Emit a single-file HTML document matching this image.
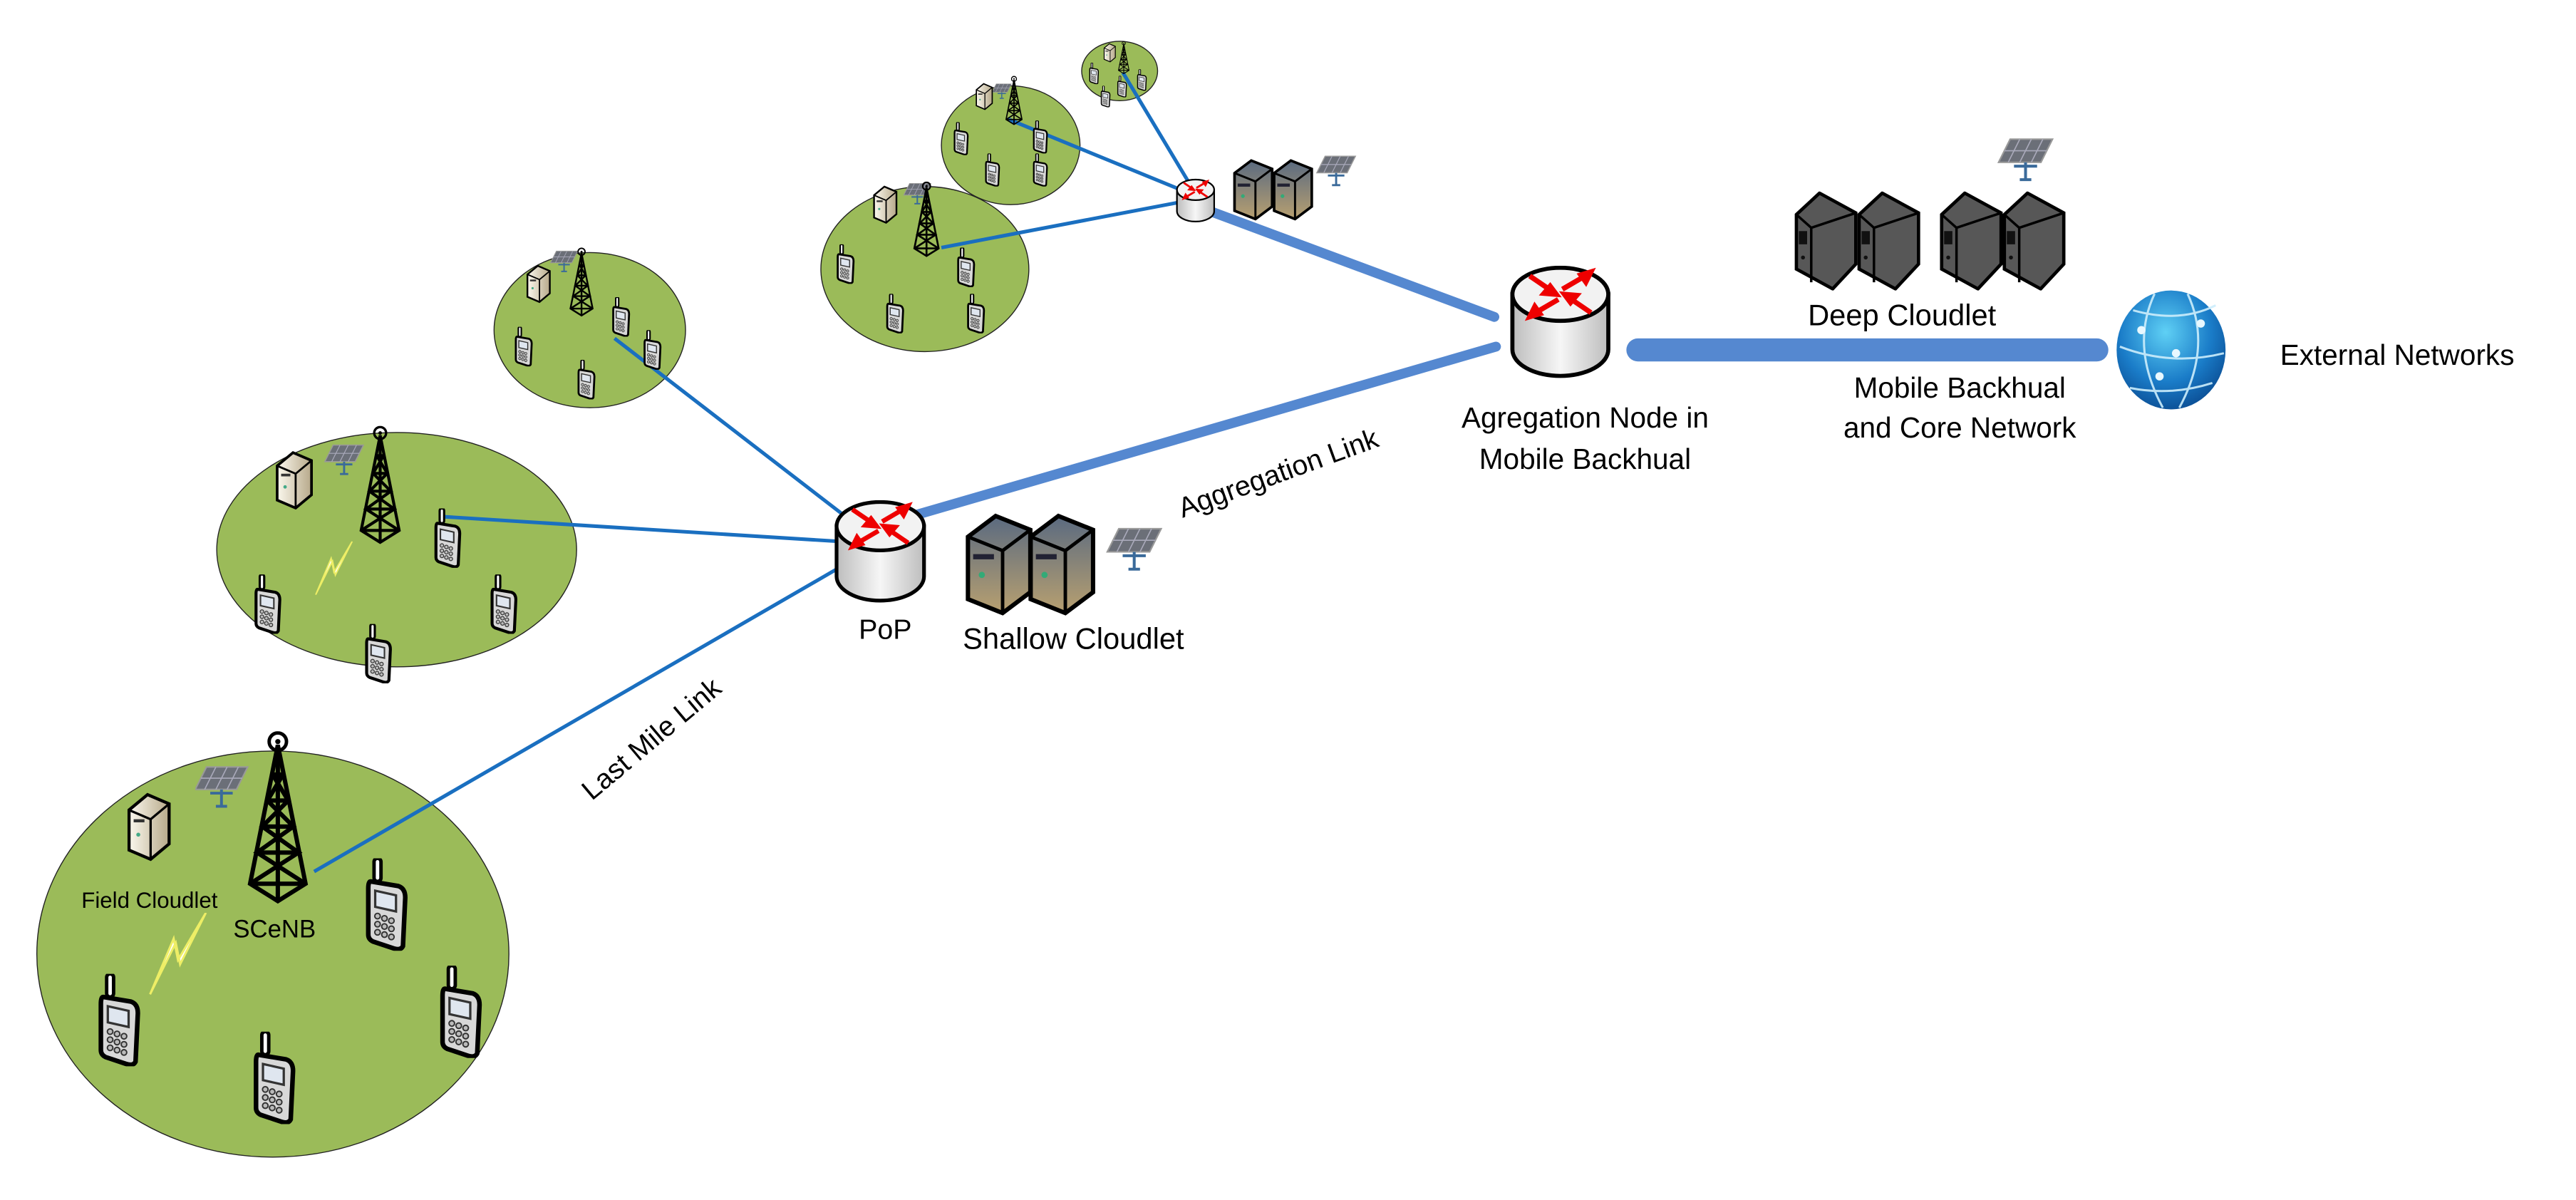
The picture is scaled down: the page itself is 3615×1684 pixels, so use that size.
<!DOCTYPE html>
<html><head><meta charset="utf-8"><style>
html,body{margin:0;padding:0;background:#fff}
svg{display:block}
text{font-family:"Liberation Sans",sans-serif;fill:#000}
</style></head><body>
<svg width="3615" height="1684" viewBox="0 0 1560 727" xmlns="http://www.w3.org/2000/svg">
<defs>
<linearGradient id="cyl" x1="0" x2="1"><stop offset="0" stop-color="#bdbdbd"/><stop offset="0.5" stop-color="#f6f6f6"/><stop offset="1" stop-color="#bdbdbd"/></linearGradient>
<linearGradient id="dsrv" x1="0" y1="0" x2="0" y2="1"><stop offset="0" stop-color="#5a6a80"/><stop offset="1" stop-color="#b8a070"/></linearGradient>
<linearGradient id="bsrv" x1="0" x2="1"><stop offset="0" stop-color="#fbf8ee"/><stop offset="1" stop-color="#b7a98a"/></linearGradient>
<radialGradient id="glb" cx="0.45" cy="0.35" r="0.7"><stop offset="0" stop-color="#5fd0f5"/><stop offset="0.6" stop-color="#1a7cc8"/><stop offset="1" stop-color="#0a4a90"/></radialGradient>
<symbol id="router" viewBox="0 0 100 110">
 <path d="M3,28 L3,82 A47,26 0 0 0 97,82 L97,28 Z" fill="url(#cyl)" stroke="#000" stroke-width="4"/>
 <ellipse cx="50" cy="28" rx="47" ry="26" fill="#f2f2f2" stroke="#000" stroke-width="4"/>
 <g stroke="#e00" stroke-width="5" fill="#e00">
 <line x1="20" y1="10" x2="42" y2="25"/><polygon points="46,28 34,27 40,20"/>
 <line x1="80" y1="46" x2="58" y2="31"/><polygon points="54,28 66,29 60,36"/>
 <line x1="48" y1="33" x2="24" y2="47"/><polygon points="20,50 25,40 30,47"/>
 <line x1="52" y1="23" x2="76" y2="9"/><polygon points="80,6 75,16 70,9"/>
 </g>
</symbol>
<symbol id="phone" viewBox="0 0 20 40">
 <rect x="4.5" y="0" width="3" height="10" rx="1.5" fill="#fff" stroke="#000" stroke-width="1.5"/>
 <path d="M3,10 L15,12 Q18,13 18,17 L17,38 Q16,40 13,39 L4,36 Q2,35 2,33 L2,13 Q2,10 3,10Z" fill="#d8d8d8" stroke="#000" stroke-width="2"/>
 <path d="M5,14 L14,16 L14,23 L5,21Z" fill="#dfe6ef" stroke="#333" stroke-width="1"/>
 <g fill="#bbb" stroke="#333" stroke-width="0.6"><circle cx="6" cy="25" r="1.2"/><circle cx="9" cy="26" r="1.2"/><circle cx="12" cy="27" r="1.2"/><circle cx="6" cy="28.5" r="1.2"/><circle cx="9" cy="29.5" r="1.2"/><circle cx="12" cy="30.5" r="1.2"/><circle cx="6" cy="32" r="1.2"/><circle cx="9" cy="33" r="1.2"/><circle cx="12" cy="34" r="1.2"/></g>
</symbol>
<symbol id="tower" viewBox="0 0 40 100">
 <circle cx="20" cy="6" r="5" fill="none" stroke="#000" stroke-width="2"/><circle cx="20" cy="6" r="1.5" fill="#000"/>
 <g stroke="#000" stroke-width="2.5" fill="none">
 <path d="M20,8 L4,88 L20,98 L36,88 Z"/><path d="M20,8 L20,98"/>
 <path d="M17,25 L23,25 M14,40 L26,40 M11,55 L29,55 M8,70 L32,70 M4,88 L36,88"/>
 <path d="M17,25 L26,40 L11,55 L32,70 L4,88 M23,25 L14,40 L29,55 L8,70 L36,88"/>
 </g>
</symbol>
<symbol id="bserver" viewBox="0 0 30 46">
 <path d="M2,12 L14,2 L28,8 L28,34 L16,44 L2,38 Z" fill="url(#bsrv)" stroke="#000" stroke-width="2"/>
 <path d="M2,12 L16,18 L28,8 M16,18 L16,44" fill="none" stroke="#000" stroke-width="1.5"/>
 <rect x="5" y="18" width="7" height="2" fill="#333"/><circle cx="8" cy="28" r="1.3" fill="#4a8"/>
</symbol>
<symbol id="dserver" viewBox="0 0 40 60">
 <path d="M2,14 L18,2 L38,10 L38,46 L22,58 L2,50 Z" fill="url(#dsrv)" stroke="#000" stroke-width="2.5"/>
 <path d="M2,14 L22,22 L38,10 M22,22 L22,58" fill="none" stroke="#000" stroke-width="2"/>
 <rect x="5" y="24" width="12" height="3" fill="#223"/><circle cx="10" cy="36" r="1.8" fill="#3a7"/>
</symbol>
<symbol id="kserver" viewBox="0 0 40 60">
 <path d="M2,14 L16,1 L38,13 L38,44 L24,59 L2,47 Z" fill="#575757" stroke="#000" stroke-width="2"/>
 <path d="M2,14 L11,22 L38,13 M11,22 L11,55" fill="none" stroke="#000" stroke-width="1.5"/>
 <rect x="3.5" y="24" width="5" height="8" fill="#111"/><circle cx="6" cy="40" r="1.2" fill="#111"/>
</symbol>
<symbol id="solar" viewBox="0 0 30 24">
 <path d="M6,2 L28,2 L22,14 L0,14Z" fill="#6b6f78" stroke="#999" stroke-width="0.8"/>
 <path d="M11,2 L5,14 M17,2 L11,14 M23,2 L17,14 M3,8 L25,8" stroke="#aab" stroke-width="0.6"/>
 <path d="M8,16 L20,16 M14,14 L14,23 M11,23 L17,23" stroke="#3a6a9a" stroke-width="1.5"/>
</symbol>
<symbol id="bolt" viewBox="0 0 30 40">
 <path d="M28,0 L16,24 L14,14 L2,38 L13,12 L15,22Z" fill="#fff" stroke="#ee6" stroke-width="1"/>
</symbol>
</defs>

<g fill="#9bbb59" stroke="#222" stroke-width="0.6">
<ellipse cx="165" cy="578" rx="143" ry="123"/>
<ellipse cx="240" cy="333" rx="109" ry="71"/>
<ellipse cx="357" cy="200" rx="58" ry="47"/>
<ellipse cx="560" cy="163" rx="63" ry="50"/>
<ellipse cx="612" cy="88" rx="42" ry="36"/>
<ellipse cx="678" cy="43" rx="23" ry="18"/>
</g>

<g stroke="#1a6fc0" stroke-width="2.2">
<line x1="190" y1="528" x2="508" y2="344"/>
<line x1="268" y1="313" x2="508" y2="328"/>
<line x1="372" y1="205" x2="512" y2="313"/>
<line x1="570" y1="150" x2="717" y2="122"/>
<line x1="610" y1="72" x2="720" y2="117"/>
<line x1="680" y1="44" x2="722" y2="114"/>
</g>
<g stroke="#5588d0" stroke-linecap="round">
<line x1="551" y1="313" x2="906" y2="210" stroke-width="6"/>
<line x1="733" y1="128" x2="905" y2="192" stroke-width="6"/>
<line x1="992" y1="212" x2="1270" y2="212" stroke-width="14"/>
</g>

<use href="#solar" x="118" y="462" width="34" height="28"/>
<use href="#bserver" x="76" y="478" width="28" height="46"/>
<use href="#tower" x="146" y="443" width="44" height="105"/>
<use href="#bolt" x="85" y="553" width="45" height="52"/>
<use href="#phone" x="220" y="520" width="28" height="56"/>
<use href="#phone" x="58" y="590" width="28" height="56"/>
<use href="#phone" x="265" y="585" width="28" height="56"/>
<use href="#phone" x="152" y="625" width="28" height="56"/>
<text x="49" y="550" font-size="13.5">Field Cloudlet</text>
<text x="141" y="568" font-size="15">SCeNB</text>

<use href="#solar" x="195" y="268" width="28" height="20"/>
<use href="#bserver" x="166" y="272" width="24" height="38"/>
<use href="#tower" x="213" y="258" width="34" height="72"/>
<use href="#bolt" x="188" y="328" width="28" height="34"/>
<use href="#phone" x="262" y="308" width="18" height="36"/>
<use href="#phone" x="153" y="348" width="18" height="36"/>
<use href="#phone" x="296" y="348" width="18" height="36"/>
<use href="#phone" x="220" y="378" width="18" height="36"/>

<use href="#solar" x="332" y="151" width="20" height="14"/>
<use href="#bserver" x="318" y="160" width="16" height="24"/>
<use href="#tower" x="342" y="150" width="20" height="42"/>
<use href="#phone" x="311" y="198" width="12" height="24"/>
<use href="#phone" x="349" y="218" width="12" height="24"/>
<use href="#phone" x="370" y="180" width="12" height="24"/>
<use href="#phone" x="389" y="200" width="12" height="24"/>

<use href="#solar" x="546" y="110" width="20" height="14"/>
<use href="#bserver" x="528" y="112" width="16" height="24"/>
<use href="#tower" x="551" y="110" width="20" height="46"/>
<use href="#phone" x="506" y="148" width="12" height="24"/>
<use href="#phone" x="536" y="178" width="12" height="24"/>
<use href="#phone" x="585" y="178" width="12" height="24"/>
<use href="#phone" x="579" y="150" width="12" height="24"/>

<use href="#solar" x="600" y="50" width="14" height="10"/>
<use href="#bserver" x="590" y="50" width="12" height="17"/>
<use href="#tower" x="607" y="46" width="14" height="30"/>
<use href="#phone" x="577" y="74" width="10" height="20"/>
<use href="#phone" x="596" y="93" width="10" height="20"/>
<use href="#phone" x="625" y="73" width="10" height="20"/>
<use href="#phone" x="625" y="93" width="10" height="20"/>

<use href="#bserver" x="668" y="26" width="8" height="12"/>
<use href="#tower" x="676" y="25" width="9" height="20"/>
<use href="#phone" x="659" y="38" width="7" height="13"/>
<use href="#phone" x="676" y="46" width="7" height="13"/>
<use href="#phone" x="688" y="42" width="7" height="13"/>
<use href="#phone" x="666" y="52" width="7" height="13"/>

<use href="#router" x="503" y="303" width="60" height="62"/>
<use href="#router" x="906" y="161" width="78" height="68"/>
<use href="#router" x="712" y="108" width="24" height="27"/>

<use href="#dserver" x="584" y="310" width="42" height="64"/>
<use href="#dserver" x="622" y="310" width="42" height="64"/>
<use href="#solar" x="668" y="318" width="40" height="28"/>
<use href="#dserver" x="746" y="96" width="26" height="38"/>
<use href="#dserver" x="770" y="96" width="26" height="38"/>
<use href="#solar" x="796" y="93" width="28" height="20"/>

<use href="#kserver" x="1086" y="116" width="40" height="60"/>
<use href="#kserver" x="1124" y="116" width="40" height="60"/>
<use href="#kserver" x="1174" y="116" width="40" height="60"/>
<use href="#kserver" x="1212" y="116" width="40" height="60"/>
<use href="#solar" x="1208" y="82" width="40" height="28"/>

<ellipse cx="1315" cy="212" rx="33" ry="36" fill="url(#glb)"/>
<g stroke="#cdeefc" stroke-width="1.3" fill="none" opacity="0.9">
<path d="M1292,188 Q1320,196 1342,185 M1284,210 Q1315,222 1347,214 M1290,235 Q1315,240 1340,232"/>
<path d="M1305,178 Q1290,210 1310,247 M1325,178 Q1340,210 1320,247"/>
</g>
<g fill="#e8f8ff"><circle cx="1297" cy="200" r="2.5"/><circle cx="1318" cy="214" r="2.5"/><circle cx="1333" cy="196" r="2.5"/><circle cx="1308" cy="228" r="2.5"/></g>

<text x="536" y="387" font-size="17" text-anchor="middle">PoP</text>
<text x="650" y="393" font-size="18" text-anchor="middle">Shallow Cloudlet</text>
<text x="960" y="259" font-size="17.5" text-anchor="middle">Agregation Node in</text>
<text x="960" y="284" font-size="17.5" text-anchor="middle">Mobile Backhual</text>
<text x="1152" y="197" font-size="18" text-anchor="middle">Deep Cloudlet</text>
<text x="1187" y="241" font-size="17.5" text-anchor="middle">Mobile Backhual</text>
<text x="1187" y="265" font-size="17.5" text-anchor="middle">and Core Network</text>
<text x="1452" y="221" font-size="17.5" text-anchor="middle">External Networks</text>
<text x="0" y="0" font-size="17" text-anchor="middle" transform="translate(398,452) rotate(-40)">Last Mile Link</text>
<text x="0" y="0" font-size="17" text-anchor="middle" transform="translate(776,292) rotate(-20)">Aggregation Link</text>
</svg>
</body></html>
